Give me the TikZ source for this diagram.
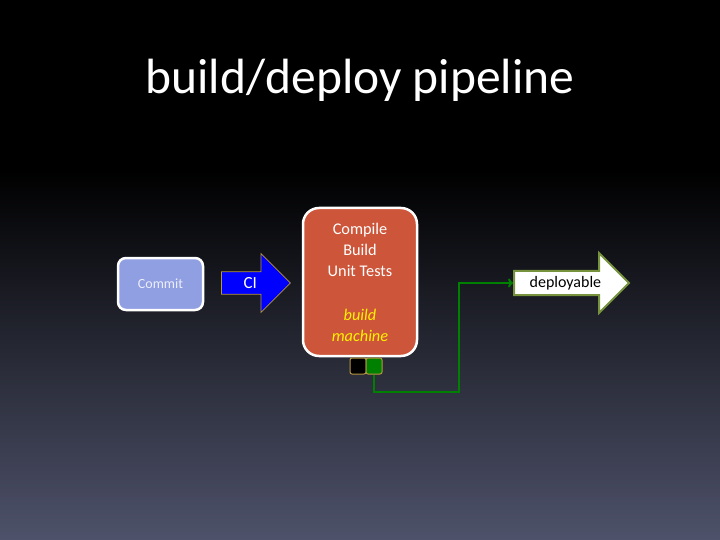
\documentclass[tikz,border=0pt]{standalone}
\usepackage{fontspec}
\setmainfont{Carlito}
\usetikzlibrary{shapes.arrows,arrows.meta}
\definecolor{bgmid}{RGB}{36,34,62}
\definecolor{bgbottom}{RGB}{78,82,106}
\definecolor{commitblue}{RGB}{144,158,226}
\definecolor{committext}{RGB}{236,238,250}
\definecolor{buildred}{RGB}{204,85,58}
\definecolor{portgold}{RGB}{184,150,60}
\definecolor{passgreen}{RGB}{0,128,0}
\definecolor{deployolive}{RGB}{118,146,60}
\begin{document}
\begin{tikzpicture}[x=1pt, y=-1pt, thick]
\tikzstyle{heading}=[anchor=base, text=white, font=\fontsize{49.5}{58}\selectfont]
\tikzstyle{stage}=[draw=white, line width=2.5pt, rounded corners=8pt, text=white, align=center]
\tikzstyle{bigarrow}=[single arrow, anchor=west, inner sep=2pt]
\tikzstyle{port}=[draw=portgold, line width=1pt, rounded corners=2pt, minimum size=16pt, inner sep=0pt]
\tikzstyle{wire}=[draw=passgreen, line width=2pt, -{To[length=5pt, width=9pt]}]
  % slide background
  \useasboundingbox (0,0) rectangle (720,540);
  \fill[black] (0,0) rectangle (720,540);
  \shade[top color=black, middle color=bgmid, bottom color=bgbottom] (0,170) rectangle (720,540);
  \node[heading] (title) at (360,94) {build/deploy pipeline};
  % stages
  \node[stage, fill=commitblue, text=committext, minimum width=85pt, minimum height=52pt,
        font=\fontsize{14}{16}\selectfont] (commit) at (160.5,284) {Commit};
  \node[bigarrow, fill=blue, draw=portgold, line width=0.8pt, text=white,
        minimum height=69pt, minimum width=59pt, single arrow head extend=13pt,
        font=\fontsize{17}{19}\selectfont] (ci) at (221,283) {CI};
  \node[stage, fill=buildred, rounded corners=16pt, minimum width=114pt, minimum height=148pt,
        font=\fontsize{16.3}{21}\selectfont] (build) at (360,282)
       {Compile\\Build\\Unit Tests\\[23pt]\textcolor{yellow}{\textit{build}}\\\textcolor{yellow}{\textit{machine}}};
  \foreach \place/\name/\col in {{(358,366)/idle/black},
                                 {(374,366)/pass/passgreen}}
    \node[port, fill=\col] (\name) at \place {};
  \node[bigarrow, fill=white, draw=deployolive, line width=2pt, text=black,
        minimum height=115pt, minimum width=60pt, single arrow head extend=14.5pt,
        font=\fontsize{16}{18}\selectfont] (deploy) at (513,283) {deployable};
  % result path
  \coordinate (bend) at (459,392);
  \path[wire] (pass.south) |- (bend) |- (deploy.west);
\end{tikzpicture}
\end{document}
